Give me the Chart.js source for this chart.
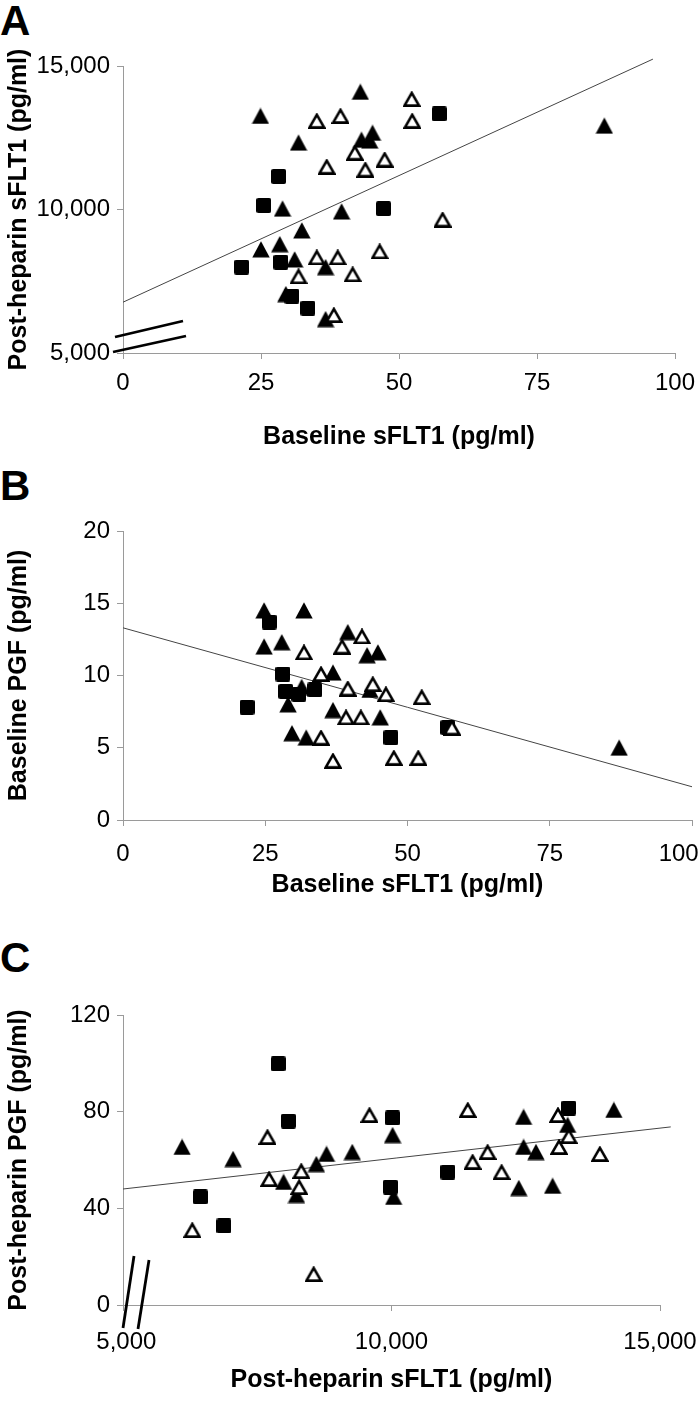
<!DOCTYPE html>
<html>
<head>
<meta charset="utf-8">
<script src="https://cdn.jsdelivr.net/npm/chart.js@4.4.1/dist/chart.umd.min.js"></script>
<style>
html, body { margin: 0; padding: 0; background: #fff; overflow: hidden; }
body { width: 700px; height: 1402px; position: relative; font-family: "Liberation Sans", Arial, sans-serif; }
.painel { position: absolute; left: 0; }
.letra { position: absolute; left: 0; font-weight: bold; font-size: 42px; line-height: 1; }
</style>
</head>
<body>
<div class="letra" style="top:0px">A</div>
<div class="letra" style="top:465px">B</div>
<div class="letra" style="top:937px">C</div>
<div class="painel" style="top:0px"><canvas id="graficoA" width="740" height="452"></canvas></div>
<div class="painel" style="top:460px"><canvas id="graficoB" width="740" height="440"></canvas></div>
<div class="painel" style="top:905px"><canvas id="graficoC" width="740" height="490"></canvas></div>
<script>
// A: baseline sFLT1 x post-heparin sFLT1
const aTriX = [24.9, 43.0, 31.8, 43.2, 45.2, 44.7, 28.9, 39.6, 32.4, 25.0, 28.4, 31.1, 36.7, 29.5, 36.7, 87.2];
const aTriY = [13260, 14100, 12330, 12430, 12670, 12400, 10030, 9930, 9270, 8610, 8790, 8260, 7990, 7050, 6180, 12920];
const aAbertoX = [35.1, 39.4, 52.3, 52.4, 42.0, 36.9, 43.9, 47.4, 35.1, 38.9, 31.8, 41.6, 46.5, 38.2, 57.9];
const aAbertoY = [13090, 13260, 13850, 13090, 11980, 11490, 11390, 11740, 8330, 8330, 7670, 7740, 8540, 6320, 9650];
const aQuadX = [28.2, 25.5, 47.2, 21.5, 28.6, 30.6, 33.5, 57.3];
const aQuadY = [11150, 10140, 10030, 7990, 8160, 6980, 6560, 13330];
const aRetaX = [0, 96];
const aRetaY = [6770, 15240];
const aTicksX = [0, 25, 50, 75, 100];
const aTicksY = [5000, 10000, 15000];

// B: baseline sFLT1 x baseline PGF
const bTriX = [24.8, 31.8, 24.8, 27.9, 39.5, 42.9, 44.8, 36.9, 31.4, 43.4, 29.0, 36.9, 45.2, 29.7, 32.2, 87.2];
const bTriY = [14.5, 14.5, 12.0, 12.3, 13.0, 11.4, 11.6, 10.2, 9.2, 9.0, 8.0, 7.6, 7.1, 6.0, 5.7, 5.0];
const bAbertoX = [31.8, 38.5, 42.0, 34.8, 39.5, 43.9, 46.2, 39.2, 41.8, 34.8, 36.9, 47.6, 52.5, 57.8, 51.9];
const bAbertoY = [11.6, 12.0, 12.7, 10.1, 9.1, 9.4, 8.7, 7.1, 7.1, 5.7, 4.1, 4.3, 8.5, 6.4, 4.3];
const bQuadX = [25.7, 28.1, 28.6, 30.9, 33.7, 21.8, 47.1, 57.1];
const bQuadY = [13.7, 10.1, 8.9, 8.7, 9.0, 7.8, 5.7, 6.4];
const bRetaX = [0, 100];
const bRetaY = [13.3, 2.3];
const bTicksX = [0, 25, 50, 75, 100];
const bTicksY = [0, 5, 10, 15, 20];

// C: post-heparin sFLT1 x post-heparin PGF
const cTriX = [6100, 7050, 7990, 8230, 8600, 8790, 9270, 10020, 10040, 12460, 12460, 12690, 12370, 13000, 13280, 14140];
const cTriY = [65.4, 60.4, 50.9, 45.5, 58.3, 62.5, 63.3, 70.3, 44.7, 77.8, 65.4, 63.3, 48.4, 49.3, 74.5, 80.7];
const cAbertoX = [6290, 7690, 7720, 8320, 8280, 8550, 9590, 11420, 11510, 11790, 12050, 13100, 13120, 13300, 13880];
const cAbertoY = [31.0, 69.5, 52.1, 55.4, 48.8, 12.8, 78.6, 80.7, 59.2, 63.3, 55.0, 78.6, 65.4, 69.9, 62.5];
const cQuadX = [7890, 8080, 6440, 6880, 10020, 9980, 11050, 13300];
const cQuadY = [99.8, 76.1, 44.7, 32.7, 77.4, 48.8, 55.0, 81.5];
const cRetaX = [5000, 15200];
const cRetaY = [48.0, 73.7];
const cTicksX = [5000, 10000, 15000];
const cTicksY = [0, 40, 80, 120];

const FONTE = '"Liberation Sans", Arial, sans-serif';
const CINZA = '#9a9a9a';
const ESP = '\u00a0';

function pares(xs, ys) {
  return xs.map((x, i) => ({ x, y: ys[i] }));
}

function numero(v) {
  return Number(v).toLocaleString('en-US');
}

// marcadores desenhados em canvas pequenos
function marcador(tipo) {
  const c = document.createElement('canvas');
  c.width = 18; c.height = 17;
  const g = c.getContext('2d');
  if (tipo === 'quadrado') {
    c.width = 15; c.height = 15;
    g.fillStyle = '#000';
    g.beginPath();
    g.roundRect(0, 0, 15, 15, 2);
    g.fill();
  } else if (tipo === 'cheio') {
    g.fillStyle = '#000';
    g.beginPath();
    g.moveTo(9, 0.3); g.lineTo(17.7, 16.5); g.lineTo(0.3, 16.5);
    g.closePath();
    g.fill();
  } else {
    c.height = 16;
    g.fillStyle = '#fff';
    g.strokeStyle = '#000';
    g.lineWidth = 2.6;
    g.beginPath();
    g.moveTo(9, 1.9); g.lineTo(16.3, 14.6); g.lineTo(1.7, 14.6);
    g.closePath();
    g.fill();
    g.stroke();
  }
  return c;
}
const triCheio = marcador('cheio');
const triAberto = marcador('aberto');
const quadrado = marcador('quadrado');

const quebraPlugin = {
  id: 'quebra',
  afterDraw(chart, args, opts) {
    const { ctx, chartArea } = chart;
    ctx.save();
    ctx.strokeStyle = '#000';
    ctx.lineWidth = 2.8;
    (opts.linhas || []).forEach(l => {
      ctx.beginPath();
      ctx.moveTo(chartArea.left + l[0], chartArea.bottom + l[1]);
      ctx.lineTo(chartArea.left + l[2], chartArea.bottom + l[3]);
      ctx.stroke();
    });
    ctx.restore();
  }
};

function eixo(cfg, lado) {
  const horiz = lado === 'x';
  const lista = horiz ? cfg.ticksX : cfg.ticksY;
  return {
    type: 'linear',
    min: lista[0],
    max: lista[lista.length - 1],
    afterBuildTicks: s => { s.ticks = lista.map(v => ({ value: v })); },
    afterFit: s => { if (horiz) s.height = cfg.alturaX; else s.width = 123; },
    grid: { drawOnChartArea: false, color: CINZA, tickLength: 6 },
    border: { color: CINZA, width: 1 },
    ticks: {
      color: '#000',
      autoSkip: false,
      maxRotation: 0,
      padding: horiz ? cfg.padX : 7,
      font: { family: FONTE, size: 24 },
      callback: (horiz && cfg.rotuloX) ? cfg.rotuloX : numero
    },
    title: {
      display: true,
      text: horiz ? cfg.tituloX : cfg.tituloY,
      color: '#000',
      font: { family: FONTE, size: 25, weight: 'bold' },
      padding: horiz ? 0 : { top: 4, bottom: 0 }
    }
  };
}

function graficoDispersao(id, cfg) {
  return new Chart(document.getElementById(id), {
    type: 'scatter',
    data: {
      datasets: [
        { label: 'aberto', data: pares(cfg.abertoX, cfg.abertoY), pointStyle: triAberto, pointRadius: 8 },
        { label: 'quadrado', data: pares(cfg.quadX, cfg.quadY), pointStyle: quadrado, pointRadius: 8 },
        { label: 'cheio', data: pares(cfg.triX, cfg.triY), pointStyle: triCheio, pointRadius: 8 },
        { label: 'reta', data: pares(cfg.retaX, cfg.retaY), showLine: true, pointRadius: 0,
          borderColor: '#444', borderWidth: 1, clip: false }
      ]
    },
    options: {
      responsive: false,
      animation: false,
      layout: { padding: { top: cfg.topo, right: cfg.direita, left: 0, bottom: 0 } },
      plugins: { legend: { display: false }, tooltip: { enabled: false }, quebra: { linhas: cfg.quebra } },
      scales: { x: eixo(cfg, 'x'), y: eixo(cfg, 'y') }
    },
    plugins: [quebraPlugin]
  });
}

graficoDispersao('graficoA', {
  triX: aTriX, triY: aTriY, abertoX: aAbertoX, abertoY: aAbertoY, quadX: aQuadX, quadY: aQuadY,
  retaX: aRetaX, retaY: aRetaY, ticksX: aTicksX, ticksY: aTicksY,
  tituloX: 'Baseline sFLT1 (pg/ml)', tituloY: 'Post-heparin sFLT1 (pg/ml)',
  topo: 66, direita: 65, alturaX: 99, padX: 10,
  quebra: [[-8, -16, 60, -32], [-10, -1, 63, -17]]
});

graficoDispersao('graficoB', {
  triX: bTriX, triY: bTriY, abertoX: bAbertoX, abertoY: bAbertoY, quadX: bQuadX, quadY: bQuadY,
  retaX: bRetaX, retaY: bRetaY, ticksX: bTicksX, ticksY: bTicksY,
  tituloX: 'Baseline sFLT1 (pg/ml)', tituloY: 'Baseline PGF (pg/ml)',
  topo: 71, direita: 48, alturaX: 80, padX: 14,
  // o ultimo rotulo fica puxado para dentro da imagem, como no original
  rotuloX: (v, i, t) => i === t.length - 1 ? numero(v) + ESP.repeat(4) : numero(v),
  quebra: []
});

graficoDispersao('graficoC', {
  triX: cTriX, triY: cTriY, abertoX: cAbertoX, abertoY: cAbertoY, quadX: cQuadX, quadY: cQuadY,
  retaX: cRetaX, retaY: cRetaY, ticksX: cTicksX, ticksY: cTicksY,
  tituloX: 'Post-heparin sFLT1 (pg/ml)', tituloY: 'Post-heparin PGF (pg/ml)',
  topo: 110, direita: 80, alturaX: 90, padX: 17,
  rotuloX: (v, i) => i === 0 ? ESP + numero(v) : numero(v),
  quebra: [[0, 23, 11, -49], [15, 24, 26, -45]]
});
</script>
</body>
</html>
